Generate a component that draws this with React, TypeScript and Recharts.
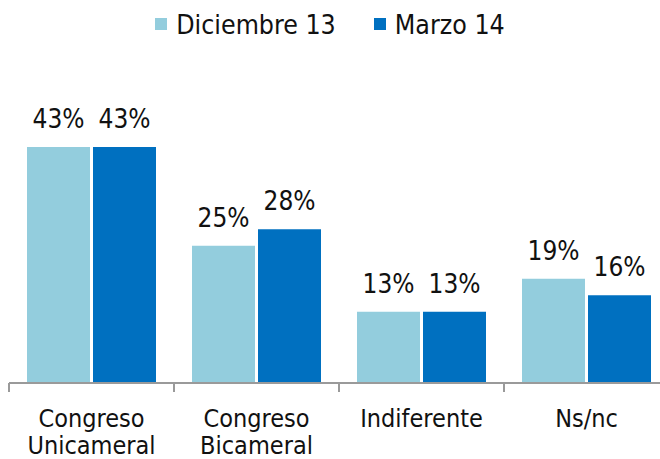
import React from "react";
import { BarChart, Bar, XAxis, YAxis, Legend, LabelList } from "recharts";

// Survey results, in percent
const categories = ["Congreso\nUnicameral", "Congreso\nBicameral", "Indiferente", "Ns/nc"];
const dic13 = [43, 25, 13, 19];
const mar14 = [43, 28, 13, 16];
const seriesNames = ["Diciembre 13", "Marzo 14"];

const LIGHT = "#93CDDD";
const DARK = "#0070C0";
const AXIS = "#9A9A9A";
const FONT = "'DejaVu Sans Condensed', 'DejaVu Sans', sans-serif";

const data = categories.map((name, i) => ({
  name,
  dic: dic13[i],
  mar: mar14[i],
}));

// two-line category label + tick marks on the band edges
const CategoryTick = (props: any) => {
  const { x, y, payload, visibleTicksCount } = props;
  const half = payload.offset || 0; // half the band width, from the scale
  const lines = String(payload.value).split("\n");
  const isLast = payload.index === visibleTicksCount - 1;
  return (
    <g transform={`translate(${x},${y})`}>
      <line x1={-half} x2={-half} y1={0} y2={9} stroke={AXIS} strokeWidth={2} />
      {isLast && <line x1={half} x2={half} y1={0} y2={9} stroke={AXIS} strokeWidth={2} />}
      {lines.map((l, i) => (
        <text key={i} x={0} y={i * 27} dy={44} textAnchor="middle" fill="#111" fontSize={25} fontFamily={FONT}>
          {l}
        </text>
      ))}
    </g>
  );
};

const LegendContent = () => (
  <div style={{ display: "flex", justifyContent: "center", alignItems: "center", fontFamily: FONT, fontSize: 26.5, color: "#111", height: 32 }}>
    {seriesNames.map((n, i) => (
      <span key={n} style={{ display: "flex", alignItems: "center", marginLeft: i ? 38 : 0 }}>
        <span style={{ width: 12, height: 12, background: i ? DARK : LIGHT, marginRight: 9, display: "inline-block" }} />
        {n}
      </span>
    ))}
  </div>
);

export default function App() {
  return (
    <div style={{ position: "absolute", left: 0, top: 0, width: 660, height: 459, overflow: "hidden", background: "#fff" }}>
      <BarChart
        width={680}
        height={459}
        data={data}
        margin={{ top: 76.5, right: 11, left: 9, bottom: 0 }}
        barCategoryGap={18}
        barGap={3}
      >
        <YAxis hide domain={[0, 50]} />
        <XAxis
          dataKey="name"
          axisLine={{ stroke: AXIS, strokeWidth: 2 }}
          tickLine={false}
          tickSize={0}
          tickMargin={0}
          interval={0}
          height={76}
          tick={<CategoryTick />}
        />
        <Legend
          verticalAlign="top"
          content={<LegendContent />}
          wrapperStyle={{ top: 8, left: 0, width: 660, height: 32 }}
        />
        <Bar dataKey="dic" name={seriesNames[0]} fill={LIGHT} isAnimationActive={false}>
          <LabelList dataKey="dic" position="top" offset={19} formatter={(v: number) => `${v}%`} fill="#111" fontSize={26} fontFamily={FONT} />
        </Bar>
        <Bar dataKey="mar" name={seriesNames[1]} fill={DARK} isAnimationActive={false}>
          <LabelList dataKey="mar" position="top" offset={19} formatter={(v: number) => `${v}%`} fill="#111" fontSize={26} fontFamily={FONT} />
        </Bar>
      </BarChart>
    </div>
  );
}
